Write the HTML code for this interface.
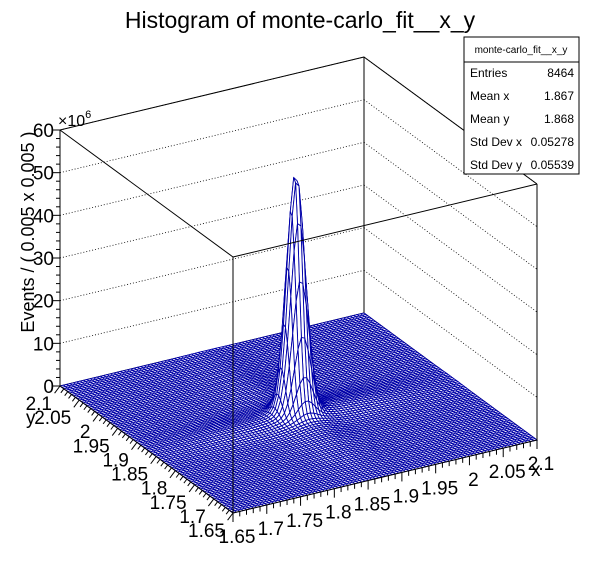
<!DOCTYPE html>
<html><head><meta charset="utf-8"><style>
body{margin:0;background:#fff}
svg{display:block;font-family:"Liberation Sans",sans-serif}
</style></head><body>
<svg id="c" width="596" height="572" viewBox="0 0 596 572" xmlns="http://www.w3.org/2000/svg">
<rect width="596" height="572" fill="#fff"/>
<text x="300" y="28" font-size="23" text-anchor="middle">Histogram of monte-carlo_fit__x_y</text>
<g id="walls"></g>
<g id="surf"></g>
<g id="axes"></g>
<g>
<rect x="464" y="37" width="115" height="137" fill="#fff" stroke="#000" stroke-width="1"/>
<line x1="464" y1="62" x2="579" y2="62" stroke="#000"/>
<text x="521" y="53" font-size="10" text-anchor="middle">monte-carlo_fit__x_y</text>
<g font-size="12">
<text x="470" y="77">Entries</text><text x="574" y="77" text-anchor="end">8464</text>
<text x="470" y="100">Mean x</text><text x="574" y="100" text-anchor="end">1.867</text>
<text x="470" y="123">Mean y</text><text x="574" y="123" text-anchor="end">1.868</text>
<text x="470" y="146">Std Dev x</text><text x="574" y="146" text-anchor="end">0.05278</text>
<text x="470" y="169">Std Dev y</text><text x="574" y="169" text-anchor="end">0.05539</text>
</g></g>
</svg>
<script>
const xRange=[1.65,2.1];
const yRange=[1.65,2.1];
const zRange=[0,60];
const zTicks=[0,10,20,30,40,50,60];
const xTickLabels=["1.65","1.7","1.75","1.8","1.85","1.9","1.95","2","2.05","2.1"];
const yTickLabels=["1.65","1.7","1.75","1.8","1.85","1.9","1.95","2","2.05","2.1"];
const peakParams=[55,1.867,1.868,0.012,0.012];
const tailParams=[1.2,0.025];
const nBins=[90,90];

const NS="http://www.w3.org/2000/svg";
const F=[233,513], UX=[304,-73], UY=[-173,-127], ZS=256/60;
function P(x,y,z){const u=(x-xRange[0])/(xRange[1]-xRange[0]),v=(y-yRange[0])/(yRange[1]-yRange[0]);
return [F[0]+u*UX[0]+v*UY[0],F[1]+u*UX[1]+v*UY[1]-(z-zRange[0])*ZS];}
function mk(t,a,p){const e=document.createElementNS(NS,t);for(const k in a)e.setAttribute(k,a[k]);p.appendChild(e);return e;}
const walls=document.getElementById('walls'),axes=document.getElementById('axes'),surf=document.getElementById('surf');
function ln(a,b,p,extra){return mk('line',Object.assign({x1:a[0],y1:a[1],x2:b[0],y2:b[1],stroke:'#000','stroke-width':1},extra||{}),p);}
zTicks.forEach(z=>{if(z===0)return;
 const g=ln(P(xRange[0],yRange[1],z),P(xRange[1],yRange[1],z),walls,{'stroke-dasharray':'1,2','stroke-width':0.8});
 
 const h=ln(P(xRange[1],yRange[1],z),P(xRange[1],yRange[0],z),walls,{'stroke-dasharray':'1,2','stroke-width':0.8});
 });
const X0=xRange[0],X1=xRange[1],Y0=yRange[0],Y1=yRange[1],Z1=zRange[1];
[[P(X0,Y1,0),P(X0,Y1,Z1)],[P(X1,Y1,0),P(X1,Y1,Z1)],[P(X0,Y1,Z1),P(X1,Y1,Z1)],[P(X1,Y1,Z1),P(X1,Y0,Z1)],
 [P(X0,Y1,0),P(X1,Y1,0)],[P(X1,Y1,0),P(X1,Y0,0)]].forEach(s=>{const l=ln(s[0],s[1],walls);
 });
function sq(a){return a*a;}
function zf(x,y){const A=peakParams[0],mx=peakParams[1],my=peakParams[2],sx=peakParams[3],sy=peakParams[4],B=tailParams[0],s=tailParams[1];
 return A*Math.exp(-(sq(x-mx)/(2*sx*sx)+sq(y-my)/(2*sy*sy)))+B*(Math.exp(-sq(x-mx)/(2*s*s))*Math.exp(-sq(y-my)/(2*0.01))+Math.exp(-sq(y-my)/(2*s*s))*Math.exp(-sq(x-mx)/(2*0.01)));}
const nx=nBins[0],ny=nBins[1],dx=(X1-X0)/nx,dy=(Y1-Y0)/ny;
const Z=[];for(let i=0;i<=nx;i++){Z.push([]);for(let j=0;j<=ny;j++)Z[i].push(zf(X0+i*dx,Y0+j*dy));}
const cells=[];for(let i=0;i<nx;i++)for(let j=0;j<ny;j++)cells.push([i,j]);
cells.sort((a,b)=>(b[0]*73+b[1]*127)-(a[0]*73+a[1]*127));
let frag=document.createDocumentFragment();
cells.forEach(([i,j])=>{const pts=[[i,j],[i+1,j],[i+1,j+1],[i,j+1]].map(([a,b])=>P(X0+a*dx,Y0+b*dy,Z[a][b]).map(v=>v.toFixed(1)).join(','));
 const e=document.createElementNS(NS,'polygon');e.setAttribute('points',pts.join(' '));
 e.setAttribute('fill','#fff');e.setAttribute('stroke','#0000a8');e.setAttribute('stroke-width','0.9');
 
 
 frag.appendChild(e);});
surf.appendChild(frag);
[[P(X0,Y0,0),P(X0,Y0,Z1)],[P(X0,Y1,Z1),P(X0,Y0,Z1)],[P(X0,Y0,Z1),P(X1,Y0,Z1)],[P(X1,Y0,0),P(X1,Y0,Z1)],
 [P(X0,Y1,0),P(X0,Y0,0)],[P(X0,Y0,0),P(X1,Y0,0)]].forEach(s=>{const l=ln(s[0],s[1],axes);
 });
const zAx=ln(P(X0,Y1,0),P(X0,Y1,Z1),axes);
for(let k=0;k<=60;k+=2){const p=P(X0,Y1,k);const l=ln(p,[p[0]-(k%10===0?8:4),p[1]],axes);
 }
zTicks.forEach(z=>{const p=P(X0,Y1,z);const t=mk('text',{x:p[0]-6,y:p[1]+7,'font-size':19,'text-anchor':'end'},axes);t.textContent=z;
 });
{const p=P(X0,Y1,Z1);const t=mk('text',{x:p[0]-2,y:p[1]-4,'font-size':16},axes);t.innerHTML='×10<tspan dy="-8" font-size="11">6</tspan>';
 }
{const t=mk('text',{x:0,y:0,'font-size':18,'text-anchor':'middle',transform:'translate(34,232) rotate(-90)'},axes);t.textContent='Events / ( 0.005 x 0.005 )';
 }
for(let k=0;k<=45;k++){const x=X0+k*0.01;const p=P(x,Y0,0);const len=k%5===0?9:5;
 const l=ln(p,[p[0],p[1]+len],axes);}
xTickLabels.forEach(s=>{const x=parseFloat(s);const p=P(x,Y0,0);const t=mk('text',{x:p[0]+4,y:p[1]+30,'font-size':19,'text-anchor':'middle'},axes);t.textContent=s;
 });
{const p=P(X1,Y0,0);const t=mk('text',{x:p[0]-6,y:p[1]+36,'font-size':19},axes);t.textContent='x';}
for(let k=0;k<=45;k++){const y=Y0+k*0.01;const p=P(X0,y,0);const len=k%5===0?9:5;
 const l=ln(p,[p[0]-len*0.6,p[1]+len*0.8],axes);}
yTickLabels.forEach(s=>{const y=parseFloat(s);const p=P(X0,y,0);const t=mk('text',{x:p[0]-8,y:p[1]+24,'font-size':19,'text-anchor':'end'},axes);t.textContent=s;
 });
{const p=P(X0,Y1,0);const t=mk('text',{x:p[0]-34,y:p[1]+38,'font-size':19},axes);t.textContent='y';}
</script>
</body></html>
